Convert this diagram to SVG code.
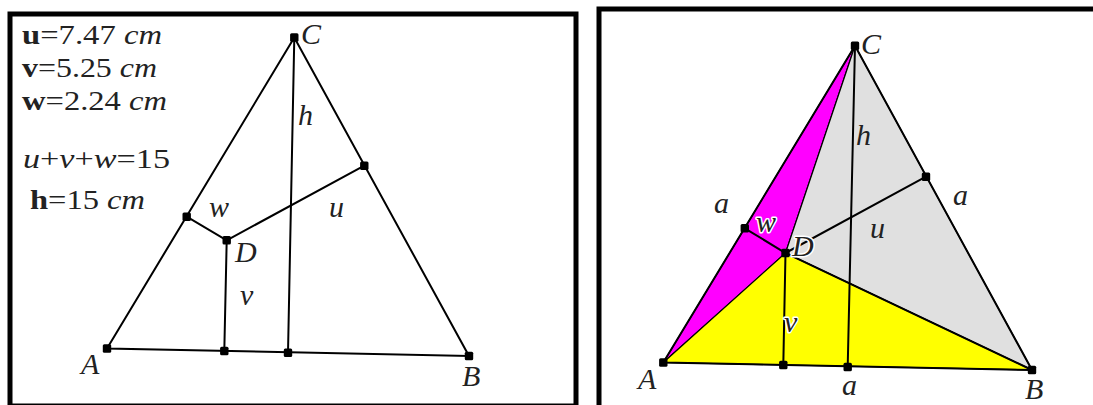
<svg xmlns="http://www.w3.org/2000/svg" width="1093" height="405" viewBox="0 0 1093 405">
<defs>
<rect id="dot" x="-4.2" y="-4.2" width="8.4" height="8.4" rx="1.5" fill="#000"/>
</defs>
<style>
.frame{fill:#fff;stroke:#000;stroke-width:5}
.ln{stroke:#000;stroke-width:2;fill:none;stroke-linecap:round}
.t{font-family:"Liberation Serif","DejaVu Serif",serif;font-size:28px;fill:#222}
.it{font-style:italic}
.b{font-weight:bold}
.lab{font-family:"Liberation Serif","DejaVu Serif",serif;font-size:30px;font-style:italic;fill:#222}
.halo{stroke:#fff;stroke-width:3;paint-order:stroke;stroke-linejoin:round}
</style>
<rect width="1093" height="405" fill="#fff"/>
<g id="left-panel">
<rect class="frame" x="10" y="14" width="566" height="392"/>
<g id="left-measures">
<text class="t" x="22" y="44" textLength="140" lengthAdjust="spacingAndGlyphs"><tspan class="b">u</tspan>=7.47 <tspan class="it">cm</tspan></text>
<text class="t" x="22" y="77" textLength="135" lengthAdjust="spacingAndGlyphs"><tspan class="b">v</tspan>=5.25 <tspan class="it">cm</tspan></text>
<text class="t" x="22" y="110" textLength="145" lengthAdjust="spacingAndGlyphs"><tspan class="b">w</tspan>=2.24 <tspan class="it">cm</tspan></text>
<text class="t" x="23" y="168" textLength="147" lengthAdjust="spacingAndGlyphs"><tspan class="it">u</tspan>+<tspan class="it">v</tspan>+<tspan class="it">w</tspan>=15</text>
<text class="t" x="30" y="209" textLength="115" lengthAdjust="spacingAndGlyphs"><tspan class="b">h</tspan>=15 <tspan class="it">cm</tspan></text>
</g>
<g id="left-connectors">
<polygon class="ln" points="107,348.5 294.3,37.5 469,356"/>
<line class="ln" x1="294.3" y1="37.5" x2="288" y2="352.7"/>
<polyline class="ln" points="186.7,216.7 226.7,240.3 364.3,165.7"/>
<line class="ln" x1="226.7" y1="240.3" x2="224.3" y2="351"/>
</g>
<g id="left-points">
<use href="#dot" x="294.3" y="37.5"/>
<use href="#dot" x="107" y="348.5"/>
<use href="#dot" x="469" y="356"/>
<use href="#dot" x="226.7" y="240.3"/>
<use href="#dot" x="186.7" y="216.7"/>
<use href="#dot" x="364.3" y="165.7"/>
<use href="#dot" x="224.3" y="351"/>
<use href="#dot" x="288" y="352.7"/>
</g>
<g id="left-labels">
<text class="lab" x="301" y="44">C</text>
<text class="lab" x="298" y="125">h</text>
<text class="lab" x="209" y="217">w</text>
<text class="lab" x="329" y="217">u</text>
<text class="lab" x="235" y="262">D</text>
<text class="lab" x="240" y="305">v</text>
<text class="lab" x="81" y="374">A</text>
<text class="lab" x="462" y="386">B</text>
</g>
</g>
<g id="right-panel">
<rect class="frame" x="599" y="9" width="520" height="420"/>
<g id="right-regions">
<polygon id="region-ACD" points="663.3,362.5 855,45.8 785.5,253" fill="#ff00ff" stroke="#000" stroke-width="1.2" stroke-linejoin="round"/>
<polygon id="region-CDB" points="855,45.8 785.5,253 1032,370" fill="#e0e0e0" stroke="#000" stroke-width="1.2" stroke-linejoin="round"/>
<polygon id="region-ADB" points="663.3,362.5 785.5,253 1032,370" fill="#ffff00" stroke="#000" stroke-width="1.2" stroke-linejoin="round"/>
</g>
<g id="right-connectors">
<polygon class="ln" points="663.3,362.5 855,45.8 1032,370"/>
<line class="ln" x1="785.5" y1="253" x2="1032" y2="370"/>
<line class="ln" x1="855" y1="45.8" x2="847.7" y2="367"/>
<polyline class="ln" points="744.8,228.3 785.5,253 926,176.7"/>
<line class="ln" x1="785.5" y1="253" x2="783.3" y2="365"/>
</g>
<g id="right-points">
<use href="#dot" x="855" y="45.8"/>
<use href="#dot" x="663.3" y="362.5"/>
<use href="#dot" x="1032" y="370"/>
<use href="#dot" x="785.5" y="253"/>
<use href="#dot" x="744.8" y="228.3"/>
<use href="#dot" x="926" y="176.7"/>
<use href="#dot" x="783.3" y="365"/>
<use href="#dot" x="847.7" y="367"/>
</g>
<g id="right-labels">
<text class="lab" x="861" y="54">C</text>
<text class="lab" x="856" y="145">h</text>
<text class="lab" x="714" y="213">a</text>
<text class="lab halo" x="756" y="232">w</text>
<text class="lab halo" x="792" y="256">D</text>
<text class="lab" x="870" y="238">u</text>
<text class="lab" x="953" y="205">a</text>
<text class="lab halo" x="784" y="332">v</text>
<text class="lab" x="638" y="389">A</text>
<text class="lab" x="842" y="395">a</text>
<text class="lab" x="1025" y="399">B</text>
</g>
</g>
</svg>
